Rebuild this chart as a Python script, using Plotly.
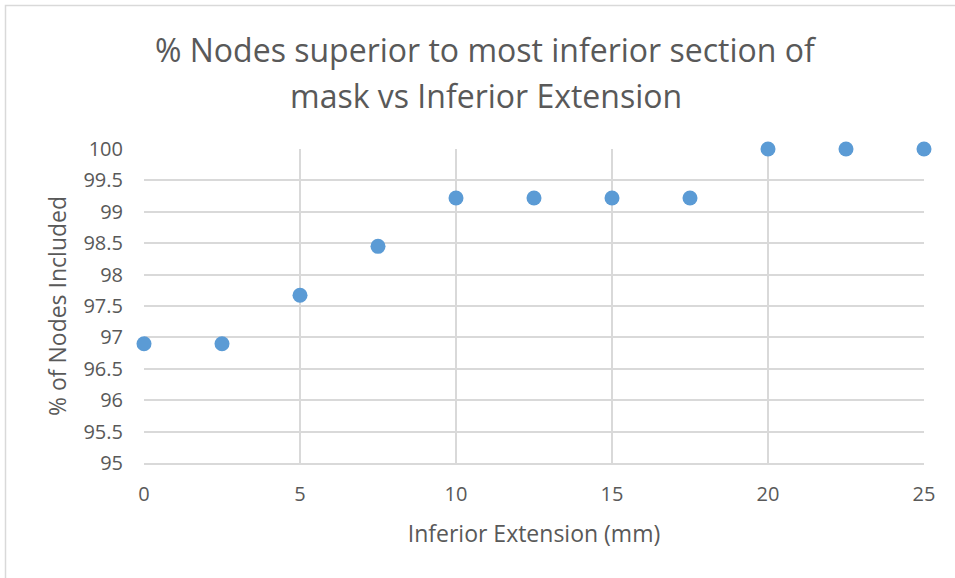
import plotly.graph_objects as go

##### Data #####

extension_mm = [0, 2.5, 5, 7.5, 10, 12.5, 15, 17.5, 20, 22.5, 25]
pct_nodes = [96.90, 96.90, 97.67, 98.45, 99.22, 99.22, 99.22, 99.22, 100, 100, 100]

x_ticks = [0, 5, 10, 15, 20, 25]
y_ticks = [95, 95.5, 96, 96.5, 97, 97.5, 98, 98.5, 99, 99.5, 100]

title_lines = ["% Nodes superior to most inferior section of",
               "mask vs Inferior Extension"]

##### Layout helpers #####

W, H = 955, 578
L, R, T, B = 144, 31, 149, 115
GREY = "#595959"
GRID = "#d9d9d9"
FONT = "Open Sans"
AXIS_TITLE_FONT = dict(family=FONT, size=23, color=GREY)


# screen pixel -> paper coordinates
def px_x(x):
    return (x - L) / (W - L - R)


def px_y(y):
    return (H - B - y) / (H - T - B)


fig = go.Figure()
fig.add_trace(go.Scatter(
    x=extension_mm,
    y=pct_nodes,
    mode="markers",
    marker=dict(size=15, color="#5b9bd5"),
    cliponaxis=False,
    showlegend=False,
))

fig.update_layout(
    width=W,
    height=H,
    margin=dict(l=L, r=R, t=T, b=B),
    paper_bgcolor="white",
    plot_bgcolor="white",
    font=dict(family=FONT, color=GREY, size=20),
    xaxis=dict(
        range=[0, 25],
        tickvals=x_ticks,
        showgrid=True,
        gridcolor=GRID,
        gridwidth=1.5,
        showline=True,
        linecolor=GRID,
        linewidth=1.5,
        zeroline=False,
        ticklabelstandoff=12,
        title=dict(text="Inferior Extension (mm)", standoff=20, font=AXIS_TITLE_FONT),
    ),
    yaxis=dict(
        range=[95, 100],
        tickvals=y_ticks,
        ticktext=[f"{v:g}" for v in y_ticks],
        showgrid=True,
        gridcolor=GRID,
        gridwidth=1.5,
        zeroline=False,
        ticklabelstandoff=20,
        title=dict(text="% of Nodes Included", standoff=10, font=AXIS_TITLE_FONT),
    ),
)

# two title lines, placed separately to get Excel-like line spacing
for text, y in zip(title_lines, [50, 96]):
    fig.add_annotation(
        text=text, xref="paper", yref="paper",
        x=px_x(486), y=px_y(y),
        xanchor="center", yanchor="middle",
        showarrow=False, font=dict(size=32, color=GREY),
    )

# light chart frame (runs off the right and bottom edges)
fig.add_shape(
    type="rect", xref="paper", yref="paper",
    x0=px_x(5.5), x1=px_x(W + 10), y0=px_y(H + 10), y1=px_y(5.5),
    line=dict(color=GRID, width=1.5), layer="below",
)

# drop the default page margin so the figure sits at the window corner
fig.write_html(
    "out.html",
    config={"displayModeBar": False},
    post_script="document.body.style.margin='0';",
)
